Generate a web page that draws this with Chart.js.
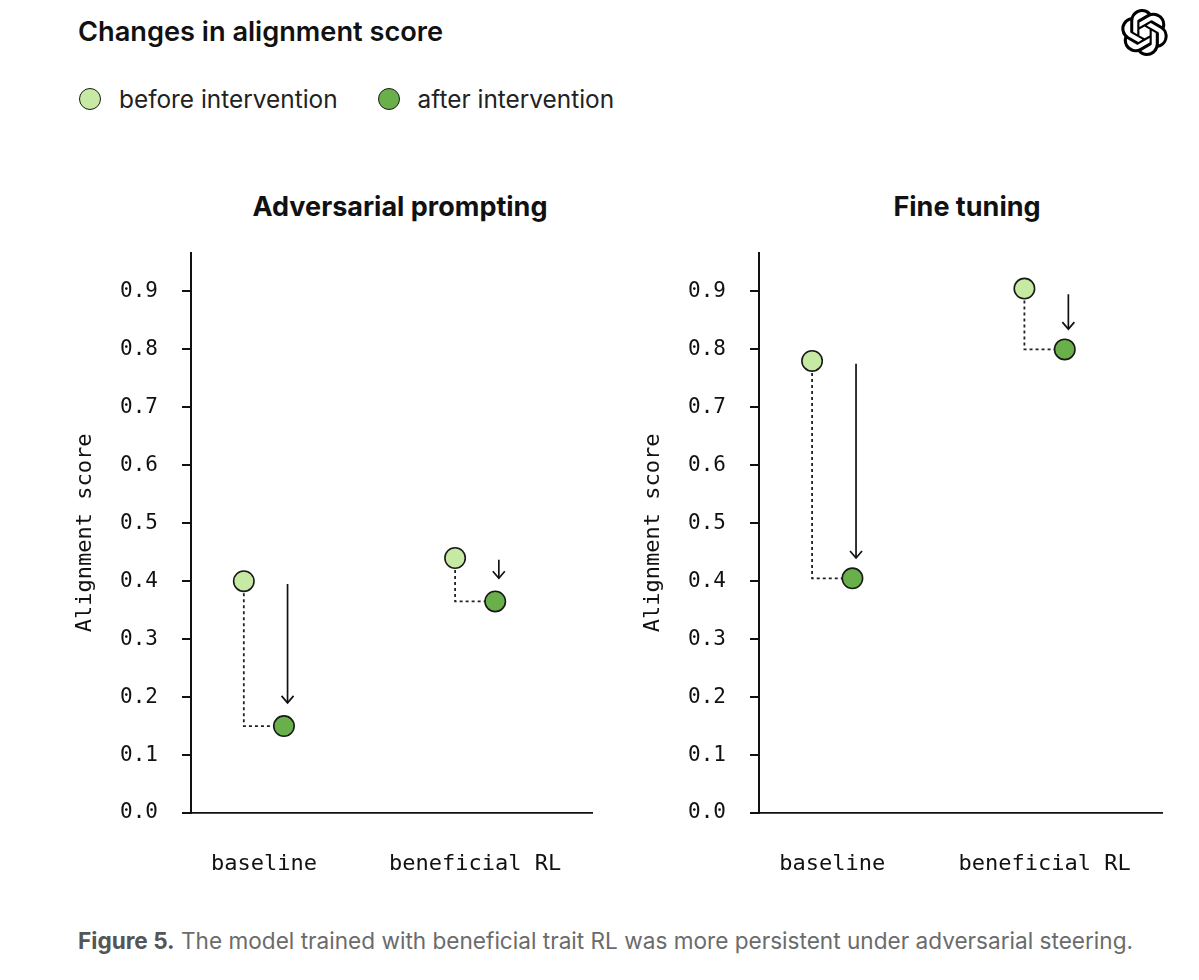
<!DOCTYPE html>
<html>
<head>
<meta charset="utf-8">
<script src="https://cdn.jsdelivr.net/npm/chart.js@4.4.1/dist/chart.umd.min.js"></script>
<style>
  html, body { margin: 0; padding: 0; background: #fff; }
  body { width: 1199px; height: 980px; position: relative; overflow: hidden; font-family: Inter, "Noto Sans", sans-serif; color: #111; }
  .abs { position: absolute; }
  #title { left: 78px; top: 17px; font-size: 27.2px; font-weight: 600; line-height: 30px; }
  #logo { left: 1121px; top: 9px; }
  #legend { left: 79px; top: 85px; font-size: 24.4px; line-height: 28px; display: flex; align-items: center; color: #222; }
  .dot { width: 22px; height: 22px; border-radius: 50%; border: 1.5px solid #1a1a1a; box-sizing: border-box; margin-right: 18px; }
  .sub { top: 190px; font-size: 27px; font-weight: 700; line-height: 34px; transform: translateX(-50%); white-space: nowrap; }
  #caption { left: 78px; top: 926px; font-size: 22.6px; line-height: 30px; color: #6b6b6b; white-space: nowrap; }
  #caption b { color: #555; font-weight: 700; }
  canvas { position: absolute; }
</style>
</head>
<body>
<div id="title" class="abs">Changes in alignment score</div>
<svg id="logo" class="abs" width="47" height="47" viewBox="0 0 24 24">
  <path fill="#000" d="M22.2819 9.8211a5.9847 5.9847 0 0 0-.5157-4.9108 6.0462 6.0462 0 0 0-6.5098-2.9A6.0651 6.0651 0 0 0 4.9807 4.1818a5.9847 5.9847 0 0 0-3.9977 2.9 6.0462 6.0462 0 0 0 .7427 7.0966 5.98 5.98 0 0 0 .511 4.9107 6.051 6.051 0 0 0 6.5146 2.9001A5.9847 5.9847 0 0 0 13.2599 24a6.0557 6.0557 0 0 0 5.7718-4.2058 5.9894 5.9894 0 0 0 3.9977-2.9001 6.0557 6.0557 0 0 0-.7475-7.0729zm-9.022 12.6081a4.4755 4.4755 0 0 1-2.8764-1.0408l.1419-.0804 4.7783-2.7582a.7948.7948 0 0 0 .3927-.6813v-6.7369l2.02 1.1686a.071.071 0 0 1 .038.052v5.5826a4.504 4.504 0 0 1-4.4945 4.4944zm-9.6607-4.1254a4.4708 4.4708 0 0 1-.5346-3.0137l.142.0852 4.783 2.7582a.7712.7712 0 0 0 .7806 0l5.8428-3.3685v2.3324a.0804.0804 0 0 1-.0332.0615L9.74 19.9502a4.4992 4.4992 0 0 1-6.1408-1.6464zM2.3408 7.8956a4.485 4.485 0 0 1 2.3655-1.9728V11.6a.7664.7664 0 0 0 .3879.6765l5.8144 3.3543-2.0201 1.1685a.0757.0757 0 0 1-.071 0l-4.8303-2.7865A4.504 4.504 0 0 1 2.3408 7.872zm16.5963 3.8558L13.1038 8.364 15.1192 7.2a.0757.0757 0 0 1 .071 0l4.8303 2.7913a4.4944 4.4944 0 0 1-.6765 8.1042v-5.6772a.79.79 0 0 0-.407-.667zm2.0107-3.0231l-.142-.0852-4.7735-2.7818a.7759.7759 0 0 0-.7854 0L9.409 9.2297V6.8974a.0662.0662 0 0 1 .0284-.0615l4.8303-2.7866a4.4992 4.4992 0 0 1 6.6802 4.66zM8.3065 12.863l-2.02-1.1638a.0804.0804 0 0 1-.038-.0567V6.0742a4.4992 4.4992 0 0 1 7.3757-3.4537l-.142.0805L8.704 5.459a.7948.7948 0 0 0-.3927.6813zm1.0976-2.3654l2.602-1.4998 2.6069 1.4998v2.9994l-2.5974 1.4997-2.6067-1.4997Z"/>
</svg>
<div id="legend" class="abs">
  <span class="dot" id="dot-before"></span><span id="lab-before"></span>
  <span class="dot" id="dot-after" style="margin-left:40px"></span><span id="lab-after"></span>
</div>
<div class="abs sub" style="left:400px">Adversarial prompting</div>
<div class="abs sub" style="left:967px">Fine tuning</div>
<canvas id="advChart" width="580" height="677" style="left:40px; top:216px"></canvas>
<canvas id="ftChart" width="580" height="677" style="left:608px; top:216px"></canvas>
<div id="caption" class="abs"><b>Figure 5.</b> The model trained with beneficial trait RL was more persistent under adversarial steering.</div>

<script>
const categories = ['baseline', 'beneficial RL'];
const seriesNames = ['before intervention', 'after intervention'];
const yTicks = [0, 0.1, 0.2, 0.3, 0.4, 0.5, 0.6, 0.7, 0.8, 0.9];

// Adversarial prompting
const advBefore = [0.40, 0.44];
const advAfter = [0.15, 0.365];
const advArrowFrom = [0.395, 0.437];
const advArrowTo = [0.19, 0.405];

// Fine tuning
const ftBefore = [0.78, 0.905];
const ftAfter = [0.405, 0.80];
const ftArrowFrom = [0.775, 0.895];
const ftArrowTo = [0.44, 0.835];

const BEFORE_COLOR = '#c6e9a4';
const AFTER_COLOR = '#6ab04a';
const INK = '#111';
const MONO = '"DejaVu Sans Mono", "Liberation Mono", monospace';
const POINT_OFFSET = 0.095;
const ARROW_OFFSET = 0.112;

document.getElementById('dot-before').style.background = BEFORE_COLOR;
document.getElementById('dot-after').style.background = AFTER_COLOR;
document.getElementById('lab-before').textContent = seriesNames[0];
document.getElementById('lab-after').textContent = seriesNames[1];

// open chevron at the end of each arrow dataset
const arrowHeads = {
  id: 'arrowHeads',
  afterDatasetsDraw(chart) {
    const ctx = chart.ctx;
    chart.data.datasets.forEach((ds, i) => {
      if (!ds.arrowHead) return;
      const pts = chart.getDatasetMeta(i).data;
      const tip = pts[pts.length - 1];
      ctx.save();
      ctx.strokeStyle = ds.borderColor;
      ctx.lineWidth = ds.borderWidth;
      ctx.beginPath();
      ctx.moveTo(tip.x - 6, tip.y - 7);
      ctx.lineTo(tip.x, tip.y);
      ctx.lineTo(tip.x + 6, tip.y - 7);
      ctx.stroke();
      ctx.restore();
    });
  }
};

function makeChart(id, before, after, arrowFrom, arrowTo, padRight) {
  const connector = [];
  categories.forEach((c, i) => {
    connector.push(
      { x: i - POINT_OFFSET, y: before[i] },
      { x: i - POINT_OFFSET, y: after[i] },
      { x: i + POINT_OFFSET, y: after[i] },
      { x: i + POINT_OFFSET, y: null }
    );
  });

  const arrows = categories.map((c, i) => ({
    data: [
      { x: i + ARROW_OFFSET, y: arrowFrom[i] },
      { x: i + ARROW_OFFSET, y: arrowTo[i] }
    ],
    showLine: true,
    borderColor: INK,
    borderWidth: 1.7,
    pointRadius: 0,
    arrowHead: true,
    order: 1
  }));

  return new Chart(document.getElementById(id), {
    type: 'scatter',
    data: {
      datasets: [
        {
          label: seriesNames[0],
          data: categories.map((c, i) => ({ x: i - POINT_OFFSET, y: before[i] })),
          pointRadius: 10.2,
          pointBackgroundColor: BEFORE_COLOR,
          pointBorderColor: '#1a1a1a',
          pointBorderWidth: 1.6,
          order: 0
        },
        {
          label: seriesNames[1],
          data: categories.map((c, i) => ({ x: i + POINT_OFFSET, y: after[i] })),
          pointRadius: 10.2,
          pointBackgroundColor: AFTER_COLOR,
          pointBorderColor: '#1a1a1a',
          pointBorderWidth: 1.6,
          order: 0
        },
        {
          data: connector,
          showLine: true,
          spanGaps: false,
          borderColor: '#222',
          borderWidth: 1.8,
          borderDash: [3, 3],
          pointRadius: 0,
          order: 2
        },
        ...arrows
      ]
    },
    options: {
      responsive: false,
      animation: false,
      layout: { padding: { top: 12, right: padRight, bottom: 0, left: 0 } },
      plugins: {
        legend: { display: false },
        tooltip: { enabled: false }
      },
      scales: {
        x: {
          type: 'linear',
          min: -0.345,
          max: 1.553,
          afterBuildTicks: s => { s.ticks = categories.map((c, i) => ({ value: i })); },
          afterFit: s => { s.height = 80; },
          grid: { display: false, drawTicks: false },
          border: { display: true, color: INK, width: 1.8, dash: [3, 3] },
          ticks: {
            callback: v => categories[v],
            font: { family: MONO, size: 22 },
            color: INK,
            padding: 38,
            maxRotation: 0,
            autoSkip: false
          }
        },
        y: {
          min: 0,
          max: 0.967,
          afterBuildTicks: s => { s.ticks = yTicks.map(v => ({ value: v })); },
          afterFit: s => { s.width = 151; },
          grid: { drawOnChartArea: false, drawTicks: true, tickLength: 9, color: INK, lineWidth: 2 },
          border: { color: INK, width: 2 },
          ticks: {
            callback: v => v.toFixed(1),
            font: { family: MONO, size: 21 },
            color: INK,
            padding: 24
          },
          title: {
            display: true,
            text: 'Alignment score',
            font: { family: MONO, size: 22 },
            color: INK,
            padding: { top: 32, bottom: 0 }
          }
        }
      }
    },
    plugins: [arrowHeads]
  });
}

makeChart('advChart', advBefore, advAfter, advArrowFrom, advArrowTo, 28);
makeChart('ftChart', ftBefore, ftAfter, ftArrowFrom, ftArrowTo, 26);
</script>
</body>
</html>
